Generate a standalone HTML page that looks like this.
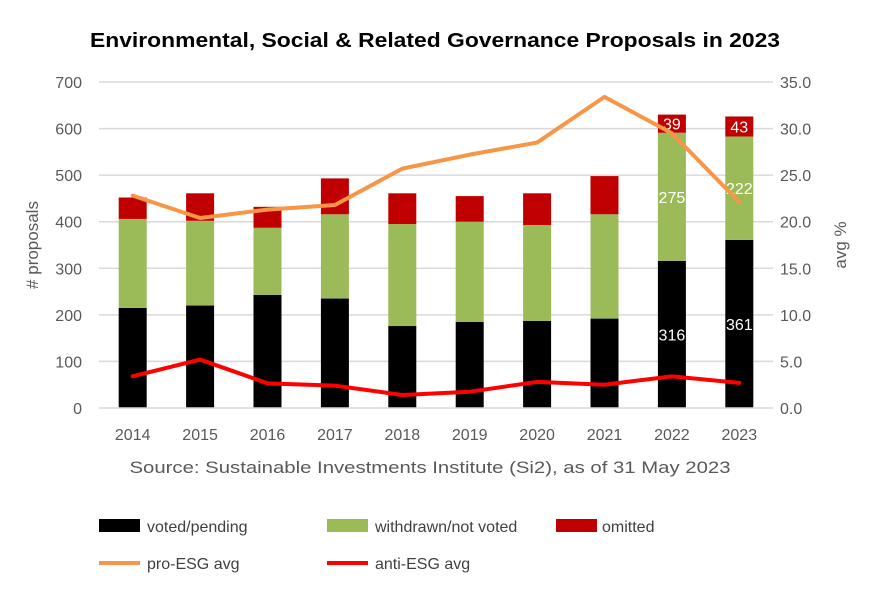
<!DOCTYPE html>
<html><head><meta charset="utf-8"><style>
body{margin:0;background:#fff;font-family:"Liberation Sans",sans-serif}
svg text{font-family:"Liberation Sans",sans-serif}
</style></head><body>
<svg id="c" width="870" height="600" viewBox="0 0 870 600">
<text x="435" y="47" text-anchor="middle" font-size="20" font-weight="bold" fill="#000" textLength="690" lengthAdjust="spacingAndGlyphs">Environmental, Social &amp; Related Governance Proposals in 2023</text>
<g id="grid"></g>
<g id="bars"></g>
<g id="lines"></g>
<g id="axes"></g>
<text transform="translate(38,245) rotate(-90)" text-anchor="middle" font-size="17" fill="#595959"># proposals</text>
<text transform="translate(846,245) rotate(-90)" text-anchor="middle" font-size="17" fill="#595959">avg %</text>
<text x="430" y="473" text-anchor="middle" font-size="17" fill="#595959" textLength="601" lengthAdjust="spacingAndGlyphs">Source:  Sustainable Investments Institute (Si2), as of 31 May 2023</text>
<g>
<rect x="99" y="519" width="41" height="13" fill="#000"/>
<text x="147" y="532" font-size="16" fill="#404040">voted/pending</text>
<rect x="327" y="519" width="41" height="13" fill="#9bbb59"/>
<text x="375" y="532" font-size="16" fill="#404040">withdrawn/not voted</text>
<rect x="556" y="519" width="41" height="13" fill="#c00000"/>
<text x="602" y="532" font-size="16" fill="#404040">omitted</text>
<line x1="99" y1="563" x2="140" y2="563" stroke="#f79646" stroke-width="4"/>
<text x="147" y="569" font-size="16" fill="#404040">pro-ESG avg</text>
<line x1="327" y1="563" x2="368" y2="563" stroke="#ff0000" stroke-width="4"/>
<text x="375" y="569" font-size="16" fill="#404040">anti-ESG avg</text>
</g>
</svg>
<script>
const years=["2014","2015","2016","2017","2018","2019","2020","2021","2022","2023"];
const voted=[215,220,243,235,176,185,187,192,316,361];
const withdrawn=[191,182,144,181,219,215,206,224,275,222];
const omitted=[46,59,45,77,66,55,68,82,39,43];
const proESG=[22.8,20.4,21.3,21.8,25.7,27.2,28.5,33.4,29.5,22.1];
const antiESG=[3.4,5.2,2.65,2.4,1.4,1.75,2.8,2.5,3.4,2.7];
const leftTicks=[0,100,200,300,400,500,600,700];
const rightTicks=["0.0","5.0","10.0","15.0","20.0","25.0","30.0","35.0"];
const labelYears=["2022","2023"];

const NS="http://www.w3.org/2000/svg";
const X0=99,X1=773,Y0=408,Y1=82;
const band=(X1-X0)/years.length;
const xc=i=>X0+band*(i+0.5);
const yL=v=>Y0-(v/700)*(Y0-Y1);
const yR=v=>Y0-(v/35)*(Y0-Y1);
function mk(tag,attrs,parent){const e=document.createElementNS(NS,tag);for(const k in attrs)e.setAttribute(k,attrs[k]);parent.appendChild(e);return e;}
const grid=document.getElementById('grid'),bars=document.getElementById('bars'),lines=document.getElementById('lines'),axes=document.getElementById('axes');
leftTicks.forEach((t,i)=>{
 const y=yL(t);
 if(t>0){const g=mk('line',{x1:X0,x2:X1,y1:y,y2:y,stroke:'#d9d9d9','stroke-width':1.5},grid);
 
 }
 const l=mk('text',{x:82,y:y+6,'text-anchor':'end','font-size':16,fill:'#595959'},axes);l.textContent=t;
 
 
 const r=mk('text',{x:780,y:yR(parseFloat(rightTicks[i]))+6,'font-size':16,fill:'#595959'},axes);r.textContent=rightTicks[i];
 
 
});
const ax=mk('line',{x1:X0,x2:X1,y1:Y0,y2:Y0,stroke:'#d9d9d9','stroke-width':1.5},axes);


const bw=28;
years.forEach((yr,i)=>{
 const x=xc(i)-bw/2;
 const segs=[[voted[i],'#000'],[withdrawn[i],'#9bbb59'],[omitted[i],'#c00000']];
 let base=0;
 segs.forEach((s,k)=>{
  const top=base+s[0];
  const r=mk('rect',{x:x,y:yL(top),width:bw,height:yL(base)-yL(top),fill:s[1]},bars);
  
  
  if(labelYears.includes(yr)){
   const t=mk('text',{x:xc(i),y:(yL(top)+yL(base))/2+6,'text-anchor':'middle','font-size':16,fill:'#fff'},bars);
   t.textContent=s[0];
   
   
  }
  base=top;
 });
 const t=mk('text',{x:xc(i),y:440,'text-anchor':'middle','font-size':16,fill:'#595959'},axes);t.textContent=yr;
 
 
});
[[proESG,'#f79646','pro-esg-line'],[antiESG,'#ff0000','anti-esg-line']].forEach(s=>{
 const p=mk('polyline',{points:s[0].map((v,i)=>xc(i)+','+yR(v)).join(' '),fill:'none',stroke:s[1],'stroke-width':4,'stroke-linejoin':'round','stroke-linecap':'round'},lines);
 
 
});
</script>
</body></html>
